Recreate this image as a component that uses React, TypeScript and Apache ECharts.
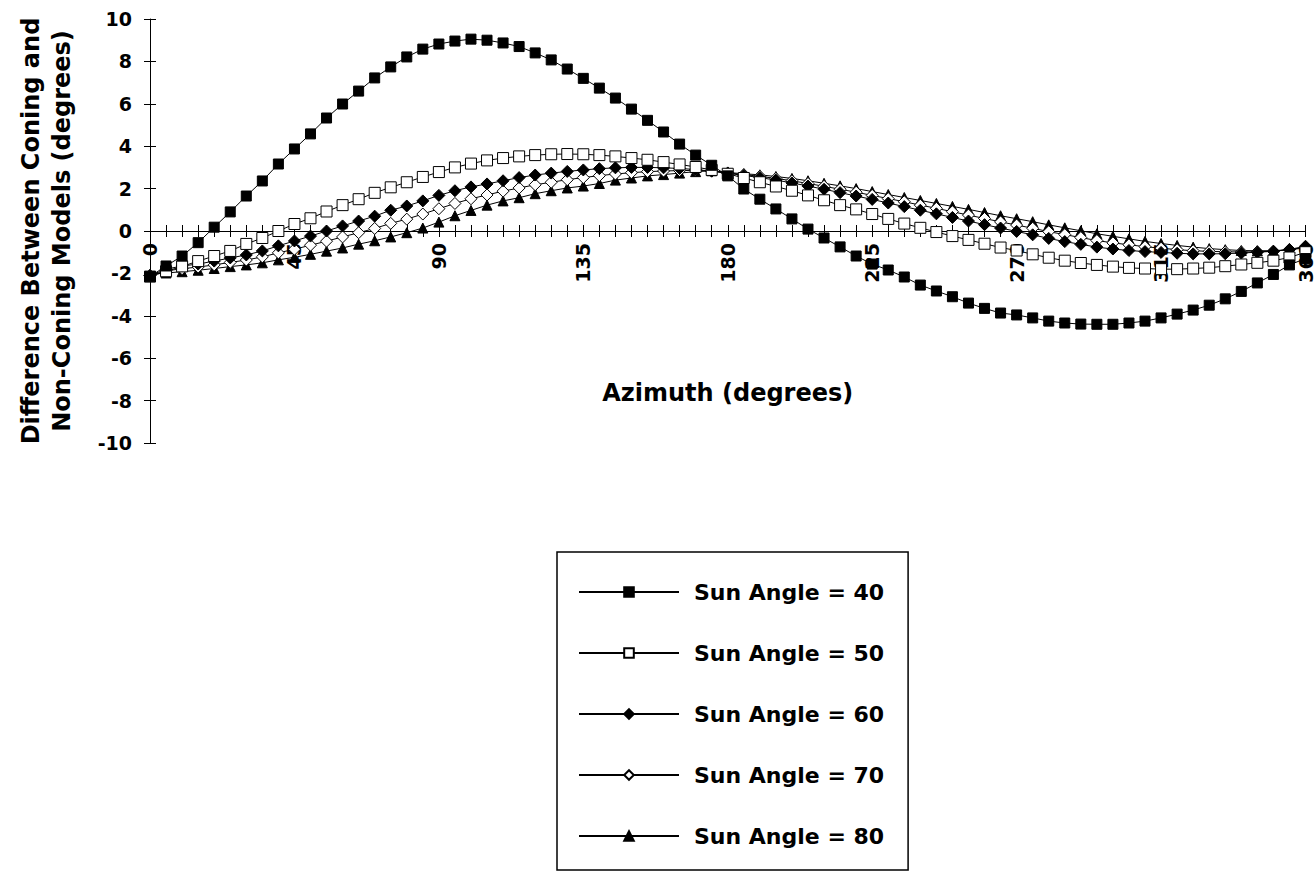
import React, { useEffect, useRef } from "react";
import * as echarts from "echarts";

const azimuth = [0, 5, 10, 15, 20, 25, 30, 35, 40, 45, 50, 55, 60, 65, 70, 75, 80, 85, 90, 95, 100, 105, 110, 115, 120, 125, 130, 135, 140, 145, 150, 155, 160, 165, 170, 175, 180, 185, 190, 195, 200, 205, 210, 215, 220, 225, 230, 235, 240, 245, 250, 255, 260, 265, 270, 275, 280, 285, 290, 295, 300, 305, 310, 315, 320, 325, 330, 335, 340, 345, 350, 355, 360];

const sun40 = [-2.15, -1.65, -1.18, -0.55, 0.18, 0.9, 1.65, 2.36, 3.16, 3.87, 4.58, 5.33, 5.99, 6.6, 7.22, 7.74, 8.21, 8.58, 8.82, 8.96, 9.05, 9.0, 8.87, 8.7, 8.4, 8.07, 7.64, 7.2, 6.74, 6.27, 5.75, 5.22, 4.67, 4.1, 3.58, 3.1, 2.6, 1.98, 1.5, 1.04, 0.57, 0.09, -0.33, -0.75, -1.18, -1.56, -1.84, -2.17, -2.55, -2.83, -3.1, -3.4, -3.65, -3.87, -3.96, -4.1, -4.25, -4.34, -4.39, -4.4, -4.4, -4.34, -4.25, -4.1, -3.92, -3.73, -3.5, -3.2, -2.85, -2.45, -2.05, -1.6, -1.3];

const sun50 = [-2.15, -1.9, -1.67, -1.42, -1.18, -0.94, -0.61, -0.33, 0.0, 0.33, 0.6, 0.92, 1.22, 1.5, 1.8, 2.06, 2.3, 2.55, 2.78, 3.0, 3.18, 3.33, 3.44, 3.52, 3.58, 3.62, 3.63, 3.62, 3.58, 3.52, 3.44, 3.36, 3.25, 3.14, 3.02, 2.88, 2.7, 2.5, 2.3, 2.1, 1.9, 1.68, 1.45, 1.22, 1.02, 0.8, 0.57, 0.35, 0.15, -0.05, -0.24, -0.42, -0.6, -0.78, -0.92, -1.1, -1.26, -1.4, -1.51, -1.6, -1.68, -1.74, -1.77, -1.8, -1.8, -1.77, -1.73, -1.66, -1.58, -1.5, -1.4, -1.25, -1.0];

const sun60 = [-2.1, -1.8, -1.65, -1.56, -1.42, -1.27, -1.13, -0.94, -0.7, -0.47, -0.24, 0.0, 0.24, 0.47, 0.7, 0.98, 1.18, 1.42, 1.68, 1.9, 2.08, 2.22, 2.37, 2.52, 2.64, 2.73, 2.81, 2.88, 2.94, 2.98, 3.0, 3.0, 2.98, 2.95, 2.9, 2.82, 2.72, 2.62, 2.52, 2.4, 2.27, 2.12, 1.97, 1.81, 1.65, 1.49, 1.32, 1.15, 0.98, 0.81, 0.64, 0.47, 0.3, 0.14, -0.02, -0.18, -0.35, -0.5, -0.63, -0.76, -0.85, -0.92, -0.97, -1.01, -1.05, -1.08, -1.08, -1.07, -1.04, -1.0, -0.96, -0.87, -0.72];

const sun70 = [-2.1, -1.88, -1.78, -1.7, -1.6, -1.48, -1.37, -1.22, -1.03, -0.86, -0.67, -0.48, -0.28, -0.08, 0.12, 0.36, 0.56, 0.8, 1.05, 1.3, 1.52, 1.7, 1.88, 2.03, 2.18, 2.3, 2.42, 2.52, 2.61, 2.69, 2.75, 2.8, 2.83, 2.85, 2.86, 2.83, 2.74, 2.66, 2.58, 2.48, 2.37, 2.24, 2.11, 1.97, 1.83, 1.68, 1.53, 1.38, 1.22, 1.07, 0.91, 0.75, 0.59, 0.43, 0.28, 0.13, -0.03, -0.17, -0.31, -0.45, -0.56, -0.65, -0.74, -0.81, -0.88, -0.93, -0.96, -0.98, -0.99, -0.98, -0.95, -0.88, -0.76];

const sun80 = [-2.05, -1.98, -1.92, -1.85, -1.77, -1.68, -1.6, -1.5, -1.36, -1.24, -1.1, -0.95, -0.8, -0.62, -0.46, -0.28, -0.08, 0.14, 0.42, 0.72, 0.97, 1.22, 1.42, 1.57, 1.76, 1.9, 2.03, 2.12, 2.24, 2.4, 2.5, 2.6, 2.66, 2.73, 2.8, 2.84, 2.76, 2.7, 2.65, 2.57, 2.48, 2.37, 2.25, 2.13, 2.0, 1.86, 1.72, 1.58, 1.44, 1.3, 1.16, 1.02, 0.87, 0.72, 0.58, 0.44, 0.29, 0.15, 0.01, -0.13, -0.25, -0.37, -0.49, -0.59, -0.68, -0.76, -0.83, -0.88, -0.92, -0.93, -0.93, -0.88, -0.8];

const seriesNames = ["Sun Angle = 40", "Sun Angle = 50", "Sun Angle = 60", "Sun Angle = 70", "Sun Angle = 80"];
const yTitle = "Difference Between Coning and\nNon-Coning Models (degrees)";
const xTitle = "Azimuth (degrees)";

const FONT = "DejaVu Sans";

export default function App() {
  const ref = useRef<HTMLDivElement>(null);

  useEffect(() => {
    if (!ref.current) return;
    const chart = echarts.init(ref.current, null, { renderer: "svg" });

    const pairs = (vals: number[]) => azimuth.map((a, i) => [a, vals[i]]);

    const styles = [
      { data: sun40, symbol: "rect", size: 10, fill: "#000", z: 7 },
      { data: sun50, symbol: "rect", size: 11, fill: "#fff", z: 6 },
      { data: sun60, symbol: "diamond", size: 12, fill: "#000", z: 5 },
      { data: sun70, symbol: "diamond", size: 12, fill: "#fff", z: 4 },
      { data: sun80, symbol: "triangle", size: 10, fill: "#000", z: 3 },
    ];

    const labelStyle = {
      color: "#000",
      fontFamily: FONT,
      fontWeight: "bold" as const,
      fontSize: 19,
    };

    // grid: top 19, height 424 -> value 0 sits 212px above the bottom edge
    const gridTop = 19;
    const gridBottom = 434;
    const plotH = 877 - gridTop - gridBottom;
    const zeroOffset = -plotH / 2;

    const option: any = {
      animation: false,
      backgroundColor: "#fff",
      grid: { left: 150, right: 8, top: gridTop, bottom: gridBottom, containLabel: false },
      xAxis: [
        {
          type: "value",
          position: "bottom",
          offset: zeroOffset,
          min: 0,
          max: 360,
          interval: 45,
          axisLine: { show: true, onZero: false, lineStyle: { color: "#000", width: 1 } },
          axisTick: { show: true, length: 6, lineStyle: { color: "#000", width: 1 } },
          minorTick: { show: true, splitNumber: 9, length: 6, lineStyle: { color: "#000", width: 1 } },
          axisLabel: { ...labelStyle, rotate: 90, margin: 12, showMinLabel: true, showMaxLabel: true },
          splitLine: { show: false },
          minorSplitLine: { show: false },
          name: xTitle,
          nameLocation: "middle",
          nameGap: 150,
          nameTextStyle: { color: "#000", fontFamily: FONT, fontWeight: "bold", fontSize: 24 },
        },
        {
          type: "value",
          position: "bottom",
          offset: zeroOffset,
          min: 0,
          max: 360,
          interval: 45,
          axisLine: { show: false, onZero: false },
          axisTick: { show: true, inside: true, length: 6, lineStyle: { color: "#000", width: 1 } },
          minorTick: { show: true, splitNumber: 9, length: 6, lineStyle: { color: "#000", width: 1 } },
          axisLabel: { show: false },
          splitLine: { show: false },
          minorSplitLine: { show: false },
        },
      ],
      yAxis: [
        {
          type: "value",
          position: "left",
          min: -10,
          max: 10,
          interval: 2,
          axisLine: { show: true, onZero: false, lineStyle: { color: "#000", width: 1 } },
          axisTick: { show: true, length: 6, lineStyle: { color: "#000", width: 1 } },
          axisLabel: { ...labelStyle, margin: 18 },
          splitLine: { show: false },
          name: yTitle,
          nameLocation: "middle",
          nameRotate: 90,
          nameGap: 73,
          nameTextStyle: {
            color: "#000",
            fontFamily: FONT,
            fontWeight: "bold",
            fontSize: 24,
            lineHeight: 31,
            align: "center",
          },
        },
        {
          type: "value",
          position: "left",
          min: -10,
          max: 10,
          interval: 2,
          axisLine: { show: false, onZero: false },
          axisTick: { show: true, inside: true, length: 6, lineStyle: { color: "#000", width: 1 } },
          axisLabel: { show: false },
          splitLine: { show: false },
        },
      ],
      legend: {
        orient: "vertical",
        left: 557,
        top: 552,
        height: 270,
        itemWidth: 100,
        itemHeight: 12,
        itemGap: 39,
        padding: [29, 24, 23, 21],
        borderColor: "#000",
        borderWidth: 1.5,
        textStyle: {
          color: "#000",
          fontFamily: FONT,
          fontWeight: "bold",
          fontSize: 22,
          lineHeight: 22,
          padding: [0, 0, 0, 10],
        },
        data: seriesNames,
      },
      series: styles.map((s, i) => ({
        name: seriesNames[i],
        type: "line",
        xAxisIndex: 0,
        yAxisIndex: 0,
        data: pairs(s.data),
        symbol: s.symbol,
        symbolSize: s.size,
        showSymbol: true,
        showAllSymbol: true,
        z: s.z,
        lineStyle: { color: "#000", width: 1 },
        itemStyle: { color: s.fill, borderColor: "#000", borderWidth: 1 },
        emphasis: { disabled: true },
      })),
    };

    chart.setOption(option);
    return () => chart.dispose();
  }, []);

  return (
    <div
      ref={ref}
      style={{ position: "fixed", left: 0, top: 0, width: 1315, height: 877, background: "#fff" }}
    />
  );
}
